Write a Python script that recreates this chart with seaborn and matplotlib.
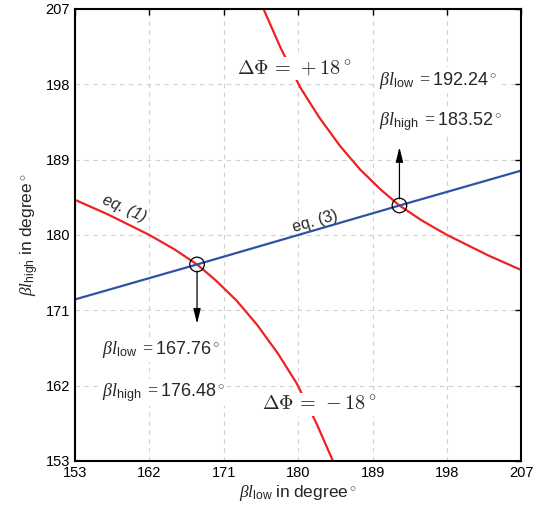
import matplotlib
matplotlib.use('Agg')
import matplotlib.pyplot as plt
import seaborn as sns
import pandas as pd

# ---- data ----
ticks = [153, 162, 171, 180, 189, 198, 207]

# eq. (1): dPhi = -18 deg branch
low_x = [153, 157, 162, 165, 167.76, 170, 172.5, 175, 177.5, 179.8, 182.2, 184.2]
low_y = [184.2, 182.45, 180.0, 178.3, 176.48, 174.6, 172.2, 169.3, 165.9, 162.3, 157.5, 153]

# dPhi = +18 deg branch
up_x = [175.8, 177.8, 180.2, 182.5, 185, 187.5, 190, 192.24, 195, 198, 203, 207]
up_y = [207, 202.5, 197.7, 194.1, 190.7, 187.8, 185.4, 183.52, 181.7, 180.0, 177.55, 175.8]

# eq. (3): straight line
eq3_x = [153, 167.76, 192.24, 207]
eq3_y = [172.3, 176.48, 183.52, 187.7]

# crossing points and arrow tips
cross_x = [167.76, 192.24]
cross_y = [176.48, 183.52]
tip_y = [169.4, 190.5]

sns.set_style('white')
plt.rcParams['font.family'] = ['Liberation Sans', 'DejaVu Sans']
plt.rcParams['mathtext.fontset'] = 'custom'
plt.rcParams['mathtext.rm'] = 'Liberation Serif'
plt.rcParams['mathtext.it'] = 'Liberation Serif:italic'
plt.rcParams['mathtext.bf'] = 'Liberation Serif:bold'
plt.rcParams['mathtext.sf'] = 'Liberation Sans'

RED = '#ee2222'
BLUE = '#2f52a8'

fig = plt.figure(figsize=(5.33, 5.19), dpi=100)
ax = fig.add_axes([0.1407, 0.1118, 0.8377, 0.8709])

sns.lineplot(x=low_x, y=low_y, color=RED, lw=1.6, ax=ax, zorder=3)
sns.lineplot(x=up_x, y=up_y, color=RED, lw=1.6, ax=ax, zorder=3)
sns.lineplot(x=eq3_x, y=eq3_y, color=BLUE, lw=1.6, ax=ax, zorder=3)

pts = pd.DataFrame({'x': cross_x, 'y': cross_y})
sns.scatterplot(data=pts, x='x', y='y', s=110, facecolor='none',
                edgecolor='black', linewidth=0.9, ax=ax, zorder=5)

for cx, cy, ty in zip(cross_x, cross_y, tip_y):
    start = cy - 0.8 if ty < cy else cy + 0.8
    ax.annotate('', xy=(cx, ty), xytext=(cx, start),
                arrowprops=dict(arrowstyle='-|>,head_length=0.9,head_width=0.22',
                                color='black', lw=0.9, shrinkA=0, shrinkB=0),
                zorder=4)

ax.set_xlim(153, 207)
ax.set_ylim(153, 207)
ax.set_xticks(ticks)
ax.set_yticks(ticks)
ax.tick_params(direction='in', length=4, width=1, labelsize=10.5,
               top=True, right=True, colors='black')
ax.grid(True, color='#cfcfcf', linestyle=(0, (4, 4)), lw=0.8)
for s in ax.spines.values():
    s.set_edgecolor('black')
    s.set_linewidth(1.5)
    s.set_zorder(6)

ax.set_xlabel(r'$\beta l_{\mathsf{low}}\ \mathsf{in\ degree}^\circ$', fontsize=12.5, labelpad=2)
ax.set_ylabel(r'$\beta l_{\mathsf{high}}\ \mathsf{in\ degree}^\circ$', fontsize=12.5, labelpad=3)

box = dict(facecolor='white', edgecolor='none', pad=1.5)

ax.text(179.5, 199.9, r'$\Delta\Phi\,=\,+18^\circ$', fontsize=14.5,
        ha='center', va='center', bbox=box, zorder=4, math_fontfamily='cm')
ax.text(182.5, 159.8, r'$\Delta\Phi\,=\,-18^\circ$', fontsize=14.5,
        ha='center', va='center', bbox=box, zorder=4, math_fontfamily='cm')

ax.text(189.8, 198.5, r'$\beta l_{\mathsf{low}}\ =\mathsf{192.24}^\circ$', fontsize=13,
        ha='left', va='center', bbox=box, zorder=4)
ax.text(189.8, 193.5, r'$\beta l_{\mathsf{high}}\ =\mathsf{183.52}^\circ$', fontsize=13,
        ha='left', va='center', bbox=box, zorder=4)
ax.text(156.3, 166.3, r'$\beta l_{\mathsf{low}}\ =\mathsf{167.76}^\circ$', fontsize=13,
        ha='left', va='center', bbox=box, zorder=4)
ax.text(156.3, 161.2, r'$\beta l_{\mathsf{high}}\ =\mathsf{176.48}^\circ$', fontsize=13,
        ha='left', va='center', bbox=box, zorder=4)

ax.text(159.0, 183.2, 'eq. (1)', fontsize=11.5, rotation=-24, style='italic',
        ha='center', va='center', zorder=4)
ax.text(182.0, 181.6, 'eq. (3)', fontsize=11.5, rotation=16,
        ha='center', va='center', zorder=4)

fig.savefig('out.png', dpi=100)
